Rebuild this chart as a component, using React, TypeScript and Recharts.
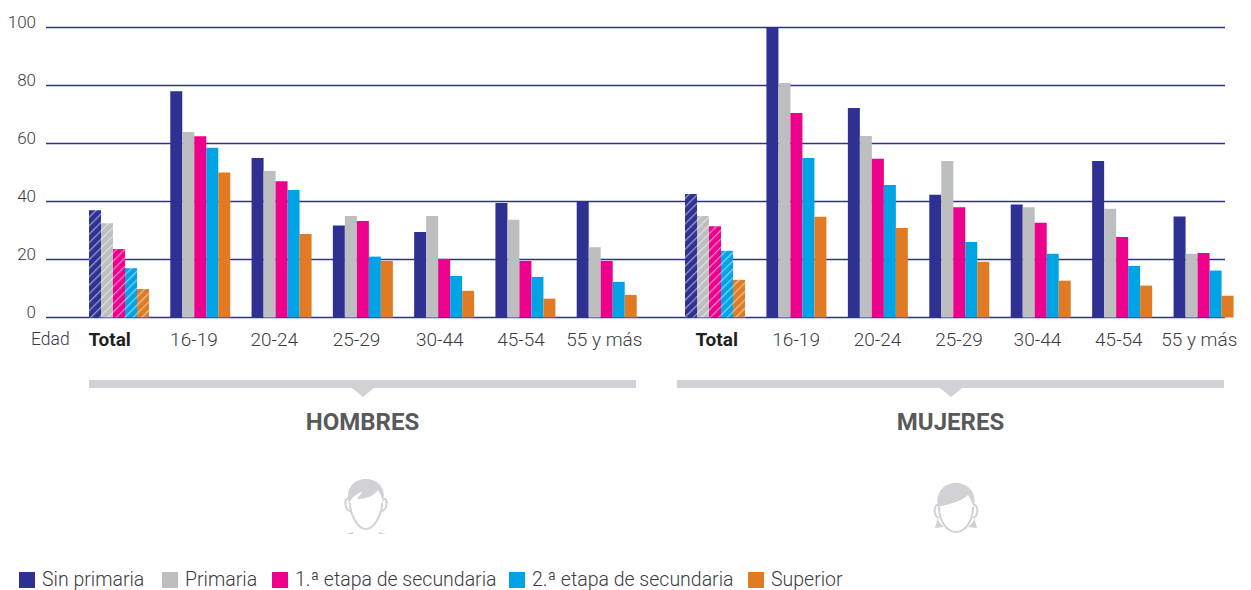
import React from 'react';
import { BarChart, Bar, Cell, XAxis, YAxis, CartesianGrid } from 'recharts';

const ageGroups = ['Total', '16-19', '20-24', '25-29', '30-44', '45-54', '55 y más'];
const seriesNames = ['Sin primaria', 'Primaria', '1.ª etapa de secundaria', '2.ª etapa de secundaria', 'Superior'];
const seriesColors = ['#2e3192', '#bcbec0', '#ec008c', '#00a4e4', '#e07b24'];
const seriesKeys = ['sinPrimaria', 'primaria', 'etapa1', 'etapa2', 'superior'];
const yTicks = [0, 20, 40, 60, 80, 100];

const hombresSinPrimaria = [37, 78, 55, 31.7, 29.5, 39.5, 40];
const hombresPrimaria = [32.5, 64, 50.5, 35, 35, 33.7, 24.2];
const hombresEtapa1 = [23.6, 62.5, 47, 33.3, 20.2, 19.5, 19.5];
const hombresEtapa2 = [17, 58.5, 44, 21, 14.3, 14, 12.3];
const hombresSuperior = [9.8, 50, 28.8, 19.5, 9.2, 6.5, 7.8];

const mujeresSinPrimaria = [42.6, 100, 72.2, 42.3, 39, 54, 34.8];
const mujeresPrimaria = [35, 80.9, 62.6, 54, 38, 37.5, 22];
const mujeresEtapa1 = [31.5, 70.5, 54.7, 38, 32.7, 27.8, 22.2];
const mujeresEtapa2 = [23, 55, 45.7, 26, 22, 17.8, 16.2];
const mujeresSuperior = [13, 34.7, 30.9, 19.2, 12.7, 11, 7.5];

const toRows = (cols: number[][]) =>
  ageGroups.map((age, i) => {
    const row: Record<string, string | number> = { age };
    seriesKeys.forEach((key, s) => {
      row[key] = cols[s][i];
    });
    return row;
  });

const hombresData = toRows([hombresSinPrimaria, hombresPrimaria, hombresEtapa1, hombresEtapa2, hombresSuperior]);
const mujeresData = toRows([mujeresSinPrimaria, mujeresPrimaria, mujeresEtapa1, mujeresEtapa2, mujeresSuperior]);

const font = 'Roboto, sans-serif';
const textColor = '#3c3c3e';
const iconGrey = '#d1d1d6';

// the printed labels sit a little off the bar groups
const hombresTickShift = [-9, -6, -7, -6, -4, -4, -2];
const mujeresTickShift = [2, 0, 0, 0, -3, -3, -4];

function AgeTick({ x, y, payload, index, shift }: any) {
  const isTotal = payload.value === 'Total';
  return (
    <text
      x={x + shift[index]}
      y={y}
      dy={12}
      textAnchor="middle"
      fontFamily={font}
      fontSize={19}
      fontWeight={isTotal ? 700 : 300}
      fill={isTotal ? '#231f20' : textColor}
    >
      {payload.value}
    </text>
  );
}

function YTick({ x, y, payload }: any) {
  return (
    <text x={x} y={y} dy={0} textAnchor="end" fontFamily={font} fontSize={17} fontWeight={300} fill={textColor}>
      {payload.value}
    </text>
  );
}

function HatchDefs({ prefix }: { prefix: string }) {
  return (
    <defs>
      {seriesColors.map((color, i) => (
        <pattern
          key={i}
          id={`${prefix}-hatch-${i}`}
          width={6}
          height={6}
          patternUnits="userSpaceOnUse"
          patternTransform="rotate(45)"
        >
          <rect width={6} height={6} fill={color} />
          <rect x={0} width={1.3} height={6} fill="#ffffff" fillOpacity={0.5} />
        </pattern>
      ))}
    </defs>
  );
}

function seriesBars(prefix: string) {
  return seriesKeys.map((key, s) => (
    <Bar key={key} dataKey={key} fill={seriesColors[s]} barSize={12} isAnimationActive={false}>
      {ageGroups.map((age, i) => (
        <Cell key={age} fill={i === 0 ? `url(#${prefix}-hatch-${s})` : seriesColors[s]} />
      ))}
    </Bar>
  ));
}

function Bracket({ left, width, tip }: { left: number; width: number; tip: number }) {
  return (
    <svg style={{ position: 'absolute', left: 0, top: 0 }} width={1251} height={590}>
      <rect x={left} y={380} width={width} height={8} fill={iconGrey} />
      <path d={`M${tip - 11} 388 L${tip} 397 L${tip + 11} 388 Z`} fill={iconGrey} />
    </svg>
  );
}

function Icons() {
  return (
    <svg style={{ position: 'absolute', left: 0, top: 0 }} width={1251} height={590}>
      {/* hombre */}
      <g>
        <path
          d="M350 503 C350 515 358 529 366 529 C374 529 382 515 382 503"
          fill="none"
          stroke={iconGrey}
          strokeWidth={2}
        />
        <path d="M348 499 C345 498 345 503 346 507 C347 510 349 511 351 511" fill="none" stroke={iconGrey} strokeWidth={2} />
        <path d="M384 499 C387 498 387 503 386 507 C385 510 383 511 381 511" fill="none" stroke={iconGrey} strokeWidth={2} />
        <path
          d="M349 504 C345 488 354 479 366 479 C378 479 387 488 383 504 C382 498 381 494 378 490 C374 496 366 499 357 499 C359 496 361 494 362 492 C356 494 351 498 349 504 Z"
          fill={iconGrey}
        />
        <path d="M346 534 L353 532 L353 534 Z M386 534 L379 532 L379 534 Z" fill={iconGrey} />
      </g>
      {/* mujer */}
      <g>
        <path
          d="M939 507 C939 521 947 532 956 532 C965 532 973 521 973 507"
          fill="none"
          stroke={iconGrey}
          strokeWidth={2}
        />
        <path d="M938 505 C934 505 934 513 936 516 L939 518" fill="none" stroke={iconGrey} strokeWidth={2} />
        <path d="M974 505 C978 505 978 513 976 516 L973 518" fill="none" stroke={iconGrey} strokeWidth={2} />
        <path
          d="M938 507 C935 492 944 483 956 483 C968 483 977 492 974 507 C972 503 971 499 968 495 C962 501 950 504 938 507 Z"
          fill={iconGrey}
        />
        <path d="M937 518 C937 522 936 525 935 528 L944 527 C941 525 939 522 937 518 Z" fill={iconGrey} />
        <path d="M975 518 C975 522 976 525 977 528 L968 527 C971 525 973 522 975 518 Z" fill={iconGrey} />
      </g>
    </svg>
  );
}

const legendLeft = [19, 162, 272, 509, 748];

function LegendRow() {
  return (
    <>
      {seriesNames.map((name, i) => (
        <div
          key={name}
          style={{
            position: 'absolute',
            left: legendLeft[i],
            top: 568,
            display: 'flex',
            alignItems: 'center',
            fontFamily: font,
            fontSize: 19.5,
            fontWeight: 300,
            lineHeight: '22px',
            color: textColor,
            whiteSpace: 'nowrap',
            overflow: 'visible',
            paddingTop: 1,
            paddingBottom: 1,
          }}
        >
          <span style={{ width: 16, height: 16, background: seriesColors[i], marginRight: 7 }} />
          {name}
        </div>
      ))}
    </>
  );
}

function Caption({ text, center }: { text: string; center: number }) {
  return (
    <div
      style={{
        position: 'absolute',
        left: center - 100,
        width: 200,
        top: 408,
        textAlign: 'center',
        fontFamily: font,
        fontSize: 24,
        fontWeight: 700,
        color: '#58595b',
      }}
    >
      {text}
    </div>
  );
}

export default function App() {
  return (
    <div style={{ position: 'absolute', left: 0, top: 0, width: 1251, height: 590, background: '#fff', overflow: 'hidden' }}>
      <div style={{ position: 'absolute', left: 0, top: 0 }}>
        <BarChart
          width={1251}
          height={360}
          data={hombresData}
          barGap={0}
          barCategoryGap={0}
          margin={{ top: 27.5, right: 26, bottom: 0, left: 0 }}
        >
          <HatchDefs prefix="h" />
          <CartesianGrid horizontal vertical={false} stroke="#2e3192" strokeWidth={1.5} />
          <XAxis
            dataKey="age"
            axisLine={false}
            tickLine={false}
            interval={0}
            height={42.5}
            padding={{ left: 32, right: 578 }}
            tick={<AgeTick shift={hombresTickShift} />}
            tickMargin={10}
          />
          <YAxis
            domain={[0, 100]}
            ticks={yTicks}
            width={46}
            axisLine={false}
            tickLine={false}
            tickMargin={4}
            tick={<YTick />}
          />
          {seriesBars('h')}
        </BarChart>
      </div>
      <div style={{ position: 'absolute', left: 0, top: 0 }}>
        <BarChart
          width={1251}
          height={360}
          data={mujeresData}
          barGap={0}
          barCategoryGap={0}
          margin={{ top: 27.5, right: 7, bottom: 0, left: 674 }}
        >
          <HatchDefs prefix="m" />
          <XAxis
            dataKey="age"
            axisLine={false}
            tickLine={false}
            interval={0}
            height={42.5}
            tick={<AgeTick shift={mujeresTickShift} />}
            tickMargin={10}
          />
          <YAxis hide domain={[0, 100]} ticks={yTicks} />
          {seriesBars('m')}
        </BarChart>
      </div>
      <div
        style={{
          position: 'absolute',
          left: 31,
          top: 329,
          fontFamily: font,
          fontSize: 17.5,
          fontWeight: 300,
          color: textColor,
        }}
      >
        Edad
      </div>
      <Bracket left={89} width={547} tip={363} />
      <Bracket left={677} width={547} tip={951} />
      <Caption text="HOMBRES" center={362.5} />
      <Caption text="MUJERES" center={950.5} />
      <Icons />
      <LegendRow />
    </div>
  );
}
